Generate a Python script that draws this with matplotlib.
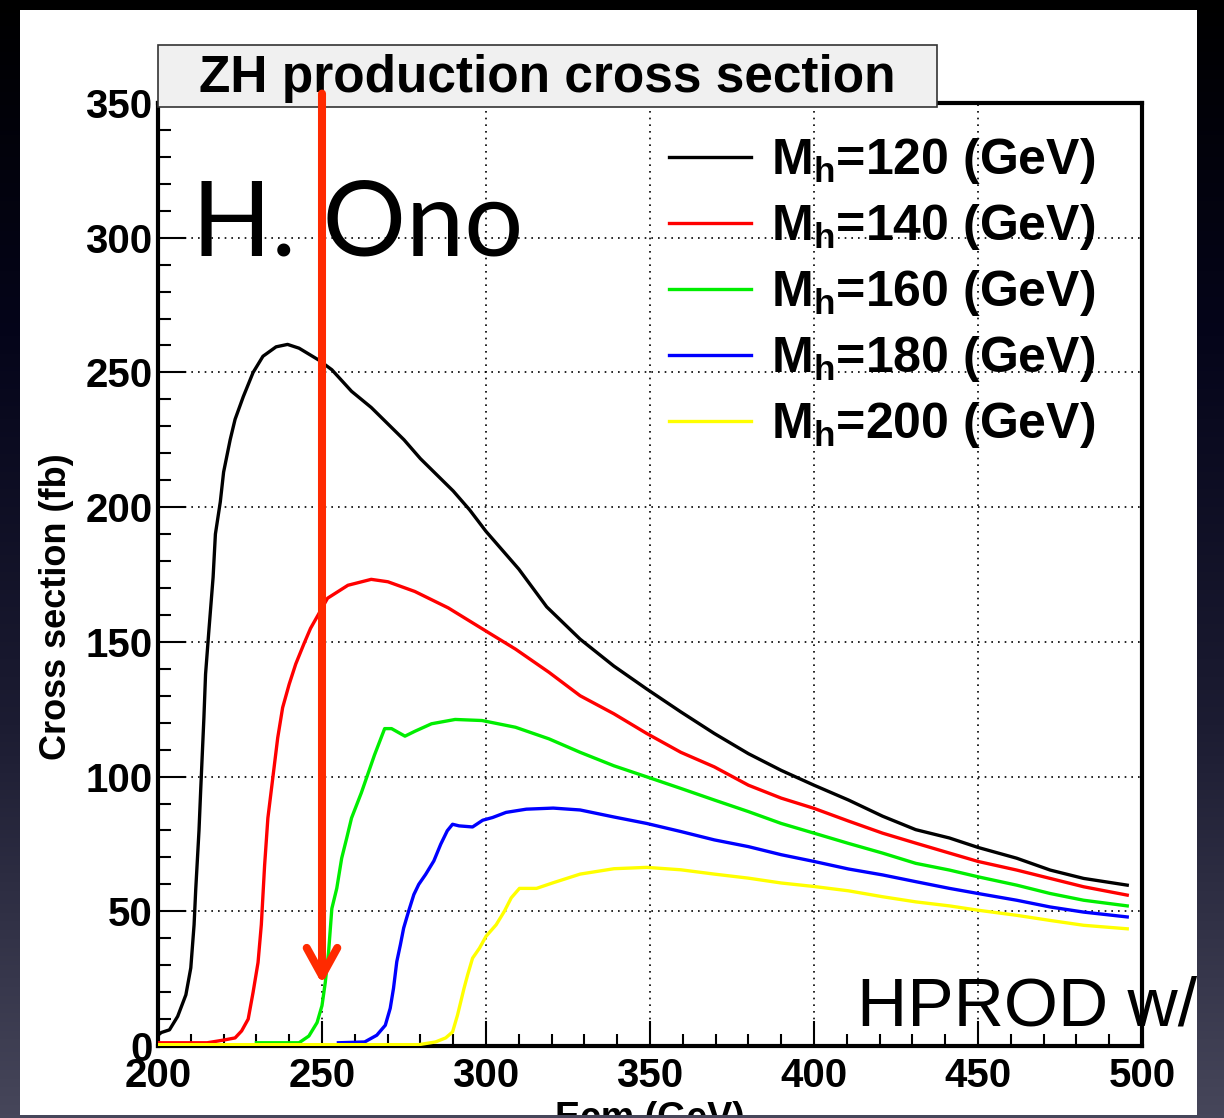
import numpy as np
import matplotlib
matplotlib.use('Agg')
import matplotlib.pyplot as plt
from matplotlib.patches import Rectangle
from matplotlib.colors import LinearSegmentedColormap
from matplotlib.ticker import MultipleLocator
from matplotlib.text import Annotation

# ZH cross section (fb) vs Ecm (GeV)
ecm_120 = [200, 201, 203.5, 206, 208.5, 210, 211, 211.5, 212.5, 213, 214, 214.5, 215.5, 216.8,
           217.5, 219, 220, 222, 223.5, 226, 229, 232, 236, 239.5, 243, 249, 253, 259, 265, 270,
           275, 280, 285, 290, 295, 300, 310, 318.5, 328.7, 339, 349, 359.4, 369.6, 380, 390,
           400, 410.5, 420.9, 431, 441.3, 450, 461.8, 472, 482.2, 495.5]
xs_120 = [4, 5, 6, 11, 19, 29, 45, 58, 80, 94.5, 122, 138, 154, 174,
          190, 202, 213, 225, 232.6, 241, 250, 256, 259.5, 260.4, 259, 254.6, 251, 243, 237, 231,
          225, 218, 212, 206, 199, 191, 177, 163, 151, 141, 132.5, 124, 116, 108.5, 102.3,
          96.8, 91.3, 85.3, 80.3, 77.2, 73.7, 69.7, 65.3, 62.2, 59.7]

ecm_140 = [200, 215, 220, 223.5, 225.5, 227.5, 229, 230.5, 231.5, 232.5, 233.5, 235, 236.5, 238,
           240, 242, 244.5, 246.5, 251.7, 257.9, 265, 270.1, 278.3, 288.5, 300, 309, 319.2,
           328.7, 339, 349, 359.4, 369.6, 380, 390, 400, 410.5, 420.9, 431, 441.3, 450, 461.8,
           472, 482.2, 495.5]
xs_140 = [1.2, 1.2, 2.2, 3, 5.6, 10, 20, 31, 45, 67, 84.6, 99.5, 114.4, 125.6,
          134.3, 141.8, 149.3, 155, 166.2, 171, 173.2, 172.3, 168.7, 162.6, 154, 147.3, 138.7,
          130, 123.3, 116, 109, 103.6, 96.8, 92, 88.2, 83.5, 79, 75.3, 71.6, 68.5, 65.3,
          62.2, 59.1, 56]

ecm_160 = [230, 243, 246, 248.5, 250, 251, 252, 253, 254.5, 256, 257.5, 259, 262, 266, 269.1,
           271.2, 275.3, 278.3, 283.4, 290.6, 298.8, 309, 319.2, 328.7, 339, 349, 359.4, 369.6,
           380, 390, 400, 410.5, 420.9, 431, 441.3, 450, 461.8, 472, 482.2, 495.5]
xs_160 = [1.2, 1.2, 3.7, 8.7, 15, 23.6, 34.8, 51, 58.5, 69.7, 77, 84.6, 94, 108, 117.8,
          117.8, 115, 116.8, 119.6, 121.2, 120.8, 118.3, 114, 109, 104, 99.9, 95.6, 91.3,
          87, 82.6, 79, 75.2, 71.6, 67.8, 65.3, 62.8, 59.7, 56.6, 54.1, 52]

ecm_180 = [255, 263, 266.7, 269.3, 270.8, 271.8, 272.8, 273.9, 274.9, 276.4, 278, 279.5, 281.6,
           284.1, 286.2, 288.2, 289.8, 291.8, 295.9, 299, 302, 306.1, 312.3, 320.5, 328.7, 339,
           349, 359.4, 369.6, 380, 390, 400, 410.5, 420.9, 431, 441.3, 450, 461.8, 472, 482.2,
           495.5]
xs_180 = [1.2, 1.5, 4, 7.7, 14, 21.4, 31.3, 37.6, 43.8, 50, 56.2, 60, 63.7,
          68.7, 74.9, 79.9, 82.3, 81.7, 81.3, 83.8, 84.8, 86.7, 87.9, 88.3, 87.6, 85,
          82.6, 79.6, 76.5, 74, 71, 68.5, 65.7, 63.5, 61, 58.5, 56.6, 54.1, 51.6, 49.7,
          47.9]

ecm_200 = [200, 279.5, 284.6, 287.7, 289.8, 291.3, 292.3, 293.3, 294.4, 295.9, 298, 300, 303.1,
           305.6, 307.7, 310.2, 315.4, 320.5, 328.7, 339, 349, 359.4, 369.6, 380, 390, 400,
           410.5, 420.9, 431, 441.3, 450, 461.8, 472, 482.2, 495.5]
xs_200 = [0.5, 0.5, 1.5, 3, 5.2, 11.4, 16.4, 21.4, 26.4, 32.6, 36.3, 40.7, 45,
          50, 55, 58.5, 58.5, 60.6, 63.8, 65.8, 66.3, 65.4, 63.8, 62.3, 60.5, 59.2,
          57.6, 55.4, 53.5, 52, 50.4, 48.5, 46.6, 44.8, 43.5]

masses = ['120', '140', '160', '180', '200']
colors = ['black', '#ff0000', '#00ee00', '#0000ff', '#ffff00']
series = [(ecm_120, xs_120), (ecm_140, xs_140), (ecm_160, xs_160),
          (ecm_180, xs_180), (ecm_200, xs_200)]

arrow_ecm = 250

plt.rcParams['font.family'] = ['Liberation Sans', 'DejaVu Sans']
plt.rcParams['font.weight'] = 'bold'
plt.rcParams['mathtext.fontset'] = 'custom'
plt.rcParams['mathtext.bf'] = 'Liberation Sans:bold'
plt.rcParams['mathtext.rm'] = 'Liberation Sans:bold'
plt.rcParams['mathtext.it'] = 'Liberation Sans:bold'

W, H = 1224, 1118
fig = plt.figure(figsize=(W / 100, H / 100), dpi=100)

# slide background
bg = fig.add_axes([0, 0, 1, 1], zorder=-10)
cmap = LinearSegmentedColormap.from_list(
    'slide', [(0, '#000000'), (0.3, '#05051a'), (0.65, '#1c1c32'), (1, '#46465a')])
bg.imshow(np.linspace(0, 1, 256).reshape(-1, 1), aspect='auto', cmap=cmap,
          extent=[0, 1, 0, 1], origin='upper')
bg.axis('off')

slide = Rectangle((20 / W, 1 - 1115 / H), (1197 - 20) / W, (1115 - 10) / H,
                  transform=fig.transFigure, facecolor='white', edgecolor='none', zorder=-5)
fig.patches.append(slide)

ax = fig.add_axes([158 / W, (H - 1046) / H, 984 / W, 943 / H])
ax.set_facecolor('white')

lines = []
for (x, y), c, m in zip(series, colors, masses):
    ln, = ax.plot(x, y, color=c, lw=2.4, zorder=3,
                  label=r'$\mathbf{M_h}$=' + m + ' (GeV)')
    lines.append(ln)

ax.set_xlim(200, 500)
ax.set_ylim(0, 350)
ax.xaxis.set_major_locator(MultipleLocator(50))
ax.xaxis.set_minor_locator(MultipleLocator(10))
ax.yaxis.set_major_locator(MultipleLocator(50))
ax.yaxis.set_minor_locator(MultipleLocator(10))
ax.tick_params(which='both', direction='in', width=1.5, labelsize=29, colors='black')
ax.tick_params(axis='x', which='major', length=18, pad=8)
ax.tick_params(axis='x', which='minor', length=9)
ax.tick_params(axis='y', which='major', length=20, pad=4)
ax.tick_params(axis='y', which='minor', length=9)
ax.grid(True, which='major', color='black', linestyle=(0, (1, 3)), linewidth=1.2)
for sp in ax.spines.values():
    sp.set_linewidth(3)

ax.legend(handles=lines, loc='upper left', bbox_to_anchor=(0.519, 0.965),
          frameon=False, fontsize=36, handlelength=1.64, handletextpad=0.4,
          labelspacing=0.32, borderpad=0, borderaxespad=0)

# title box
fig.patches.append(Rectangle((158 / W, 1 - 107 / H), (937 - 158) / W, 62 / H,
                             transform=fig.transFigure, facecolor='#f0f0f0',
                             edgecolor='#333333', lw=1.2, zorder=1))
fig.text(547.5 / W, 1 - 92 / H, 'ZH production cross section', ha='center',
         va='baseline', fontsize=37, fontweight='bold', zorder=2)

# red arrow at Ecm = 250, drawn above the title box
fig.add_artist(Annotation('', xy=(arrow_ecm, 23), xytext=(arrow_ecm, 353.5),
                          xycoords=ax.transData, textcoords=ax.transData,
                          arrowprops=dict(arrowstyle='->,head_length=1.0,head_width=0.55',
                                          lw=5.8, color='#ff2a00', mutation_scale=20,
                                          shrinkA=0, shrinkB=0, capstyle='round',
                                          joinstyle='round'), zorder=20))

fig.text(57 / W, 1 - 607 / H, 'Cross section (fb)', rotation=90, ha='center',
         va='center', fontsize=26, fontweight='bold')
xl = fig.text(650 / W, 1 - 1101 / H, 'Ecm (GeV)', ha='center', va='top',
              fontsize=27, fontweight='bold')
xl.set_clip_path(slide)

fig.text(192 / W, 1 - 255 / H, 'H. Ono', family=['Lato', 'DejaVu Sans'],
         fontweight='normal', fontsize=75, va='baseline', zorder=5)
hp = fig.text(857 / W, 1 - 1025 / H, 'HPROD w/', family=['Liberation Sans'],
              fontweight='normal', fontsize=50, va='baseline', zorder=5)
hp.set_clip_path(slide)

fig.savefig('out.png', dpi=100)
